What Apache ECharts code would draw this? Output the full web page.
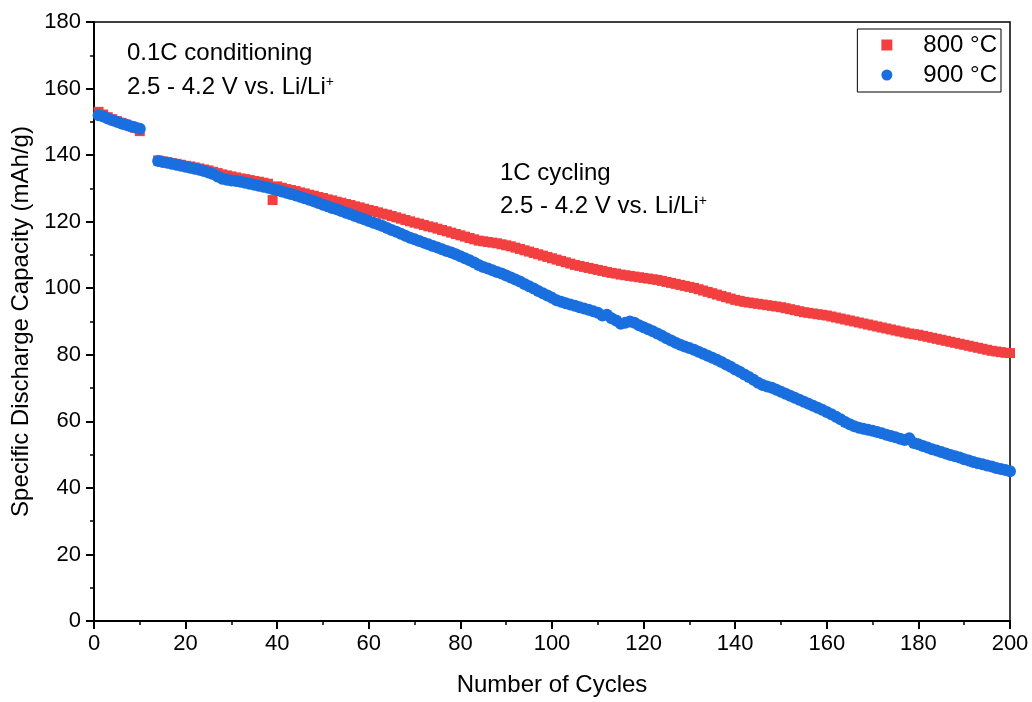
<!DOCTYPE html>
<html>
<head>
<meta charset="utf-8">
<script src="https://cdn.jsdelivr.net/npm/echarts@6/dist/echarts.min.js"></script>
<style>
html,body{margin:0;padding:0;background:#fff;}
#chart{width:1032px;height:702px;}
</style>
</head>
<body>
<div id="chart"></div>
<script>
// ---- data ----
const conditioningCycles = [1,2,3,4,5,6,7,8,9,10];
const cyclingStart = 14, cyclingEnd = 200;

const red800Conditioning = [153.0,152.2,151.4,150.8,150.2,149.7,149.2,148.7,148.2,147.2];
const blue900Conditioning = [152.0,151.6,151.0,150.5,150.0,149.5,149.1,148.7,148.3,147.9];

const red800Cycling = [
 138.4,138.1,137.9,137.6,137.4,137.1,136.8,
 136.6,136.3,136.0,135.7,135.4,135.0,134.6,134.2,133.9,133.6,
 133.3,133.0,132.8,132.5,132.2,132.0,131.7,131.4,126.5,130.6,
 130.2,129.8,129.5,129.2,128.8,128.5,128.1,127.8,127.4,127.1,
 126.7,126.4,126.0,125.7,125.3,125.0,124.6,124.3,123.9,123.5,
 123.2,122.8,122.4,122.1,121.7,121.3,120.9,120.5,120.1,119.7,
 119.4,119.0,118.6,118.3,117.9,117.5,117.1,116.7,116.3,115.9,
 115.5,115.1,114.7,114.3,114.1,113.9,113.7,113.5,113.2,112.9,
 112.6,112.2,111.8,111.4,111.0,110.6,110.2,109.8,109.4,109.0,
 108.6,108.2,107.8,107.4,107.0,106.7,106.4,106.1,105.8,105.5,
 105.2,104.9,104.6,104.4,104.1,103.9,103.7,103.5,103.3,103.1,
 102.9,102.7,102.5,102.2,101.9,101.6,101.3,101.0,100.7,100.4,
 100.1,99.7,99.3,98.9,98.5,98.1,97.7,97.3,96.9,96.5,
 96.2,95.9,95.7,95.5,95.3,95.1,94.9,94.7,94.5,94.3,
 94.0,93.7,93.4,93.1,92.8,92.6,92.4,92.2,92.0,91.8,
 91.5,91.2,90.9,90.6,90.3,90.0,89.7,89.4,89.1,88.8,
 88.5,88.2,87.9,87.6,87.3,87.0,86.7,86.4,86.2,86.0,
 85.7,85.4,85.1,84.8,84.5,84.2,83.9,83.6,83.3,83.0,
 82.7,82.4,82.1,81.8,81.5,81.2,81.0,80.8,80.6,80.5
];

const blue900Cycling = [
 138.2,137.9,137.7,137.4,137.1,136.8,136.5,
 136.2,135.9,135.6,135.2,134.8,134.3,133.6,132.9,132.6,132.4,
 132.2,132.0,131.7,131.4,131.1,130.8,130.5,130.2,129.8,129.5,
 129.1,128.7,128.3,127.9,127.5,127.0,126.6,126.1,125.6,125.1,
 124.6,124.1,123.7,123.2,122.7,122.2,121.7,121.2,120.7,120.2,
 119.7,119.2,118.7,118.1,117.5,117.0,116.4,115.8,115.2,114.7,
 114.2,113.7,113.2,112.7,112.2,111.7,111.2,110.7,110.2,109.6,
 109.0,108.4,107.7,107.0,106.4,105.9,105.4,104.9,104.4,103.8,
 103.2,102.6,102.0,101.3,100.6,99.9,99.2,98.5,97.8,97.1,
 96.4,95.9,95.5,95.1,94.7,94.3,93.9,93.5,93.1,92.6,
 91.8,92.0,91.0,90.3,89.3,89.6,90.0,89.6,88.9,88.3,
 87.7,87.1,86.4,85.7,85.0,84.3,83.6,83.0,82.5,82.0,
 81.5,80.9,80.3,79.7,79.1,78.5,77.8,77.1,76.4,75.6,
 74.9,74.1,73.3,72.5,71.6,70.9,70.5,70.1,69.5,68.9,
 68.3,67.7,67.1,66.5,65.9,65.3,64.7,64.1,63.5,62.8,
 62.1,61.4,60.6,59.8,59.1,58.5,58.1,57.8,57.5,57.2,
 56.8,56.4,56.0,55.6,55.2,54.8,54.4,54.9,53.5,53.1,
 52.6,52.1,51.6,51.2,50.8,50.3,49.9,49.5,49.1,48.6,
 48.2,47.8,47.4,47.1,46.7,46.4,46.0,45.7,45.4,45.0
];

const seriesNames = ['800 °C', '900 °C'];
const xTickMin = 0, xTickMax = 200, xTickStep = 20;
const yTickMin = 0, yTickMax = 180, yTickStep = 20;
const xAxisTitle = 'Number of Cycles';
const yAxisTitle = 'Specific Discharge Capacity (mAh/g)';

// ---- build ----
const cyclingCycles = [];
for (let c = cyclingStart; c <= cyclingEnd; c++) cyclingCycles.push(c);

function pairs(xs, ys) { return xs.map((x, i) => [x, ys[i]]); }
const redData = pairs(conditioningCycles, red800Conditioning).concat(pairs(cyclingCycles, red800Cycling));
const blueData = pairs(conditioningCycles, blue900Conditioning).concat(pairs(cyclingCycles, blue900Cycling));

const RED = '#F24040', BLUE = '#1A6FDF';
const FONT = '"Liberation Sans", Arial, sans-serif';
const supRich = {sup: {fontSize: 14, verticalAlign: 'top', padding: [0, 0, 10, 0], fontFamily: FONT}};

const chart = echarts.init(document.getElementById('chart'), null, {renderer: 'canvas'});
chart.setOption({
  animation: false,
  backgroundColor: '#fff',
  grid: {left: 94, right: 22, top: 22, bottom: 78, show: true, borderColor: '#000', borderWidth: 1.5, backgroundColor: 'transparent'},
  xAxis: {
    type: 'value', min: xTickMin, max: xTickMax, interval: xTickStep,
    name: xAxisTitle, nameLocation: 'middle', nameGap: 52,
    nameTextStyle: {fontFamily: FONT, fontSize: 24, color: '#000'},
    axisLine: {show: true, onZero: false, lineStyle: {color: '#000', width: 2}},
    axisTick: {show: true, length: 8, lineStyle: {color: '#000', width: 2}},
    minorTick: {show: true, splitNumber: 2, length: 4, lineStyle: {color: '#000', width: 1.5}},
    axisLabel: {fontFamily: FONT, fontSize: 22, color: '#000', margin: 12},
    splitLine: {show: false}
  },
  yAxis: {
    type: 'value', min: yTickMin, max: yTickMax, interval: yTickStep,
    name: yAxisTitle, nameLocation: 'middle', nameGap: 61, nameRotate: 90,
    nameTextStyle: {fontFamily: FONT, fontSize: 24, color: '#000'},
    axisLine: {show: true, onZero: false, lineStyle: {color: '#000', width: 2}},
    axisTick: {show: true, length: 8, lineStyle: {color: '#000', width: 2}},
    minorTick: {show: true, splitNumber: 2, length: 4, lineStyle: {color: '#000', width: 1.5}},
    axisLabel: {fontFamily: FONT, fontSize: 22, color: '#000', margin: 13},
    splitLine: {show: false}
  },
  legend: {
    orient: 'vertical', right: 31, top: 29,
    borderColor: '#000', borderWidth: 1, borderRadius: 0,
    padding: [4, 4, 5, 24], itemGap: 6,
    itemWidth: 11, itemHeight: 11,
    textStyle: {fontFamily: FONT, fontSize: 24, color: '#000', padding: [0, 0, 0, 26]},
    data: [
      {name: seriesNames[0], icon: 'rect'},
      {name: seriesNames[1], icon: 'circle'}
    ]
  },
  graphic: [
    {type: 'text', left: 127, top: 41, style: {text: '0.1C conditioning', font: '24px ' + FONT, fill: '#000'}},
    {type: 'text', left: 127, top: 75, style: {
      text: '2.5 - 4.2 V vs. Li/Li{sup|+}', font: '24px ' + FONT, fill: '#000', rich: supRich
    }},
    {type: 'text', left: 500, top: 161, style: {text: '1C cycling', font: '24px ' + FONT, fill: '#000'}},
    {type: 'text', left: 500, top: 194, style: {
      text: '2.5 - 4.2 V vs. Li/Li{sup|+}', font: '24px ' + FONT, fill: '#000', rich: supRich
    }}
  ],
  series: [
    {name: seriesNames[0], type: 'scatter', symbol: 'rect', symbolSize: 10, data: redData,
     itemStyle: {color: RED, opacity: 1}, z: 2},
    {name: seriesNames[1], type: 'scatter', symbol: 'circle', symbolSize: 12, data: blueData,
     itemStyle: {color: BLUE, opacity: 1}, z: 3}
  ]
});
</script>
</body>
</html>
